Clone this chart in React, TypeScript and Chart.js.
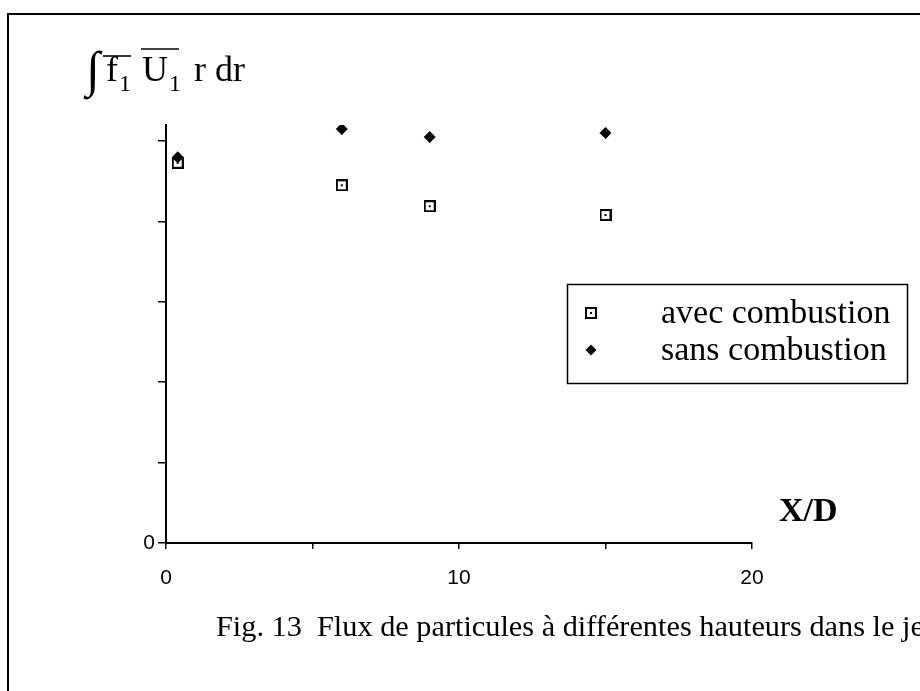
import React, { useEffect, useRef } from "react";
import { Chart, registerables } from "chart.js";

Chart.register(...registerables);

// ---- data ----
const xPositions = [0.4, 6, 9, 15];
const avecCombustion = [4.73, 4.45, 4.19, 4.08];
const sansCombustion = [4.8, 5.15, 5.05, 5.1];
const xTickLabels = ["0", "10", "20"];
const yTickLabels = ["0"];
const seriesNames = ["avec combustion", "sans combustion"];
const xAxisTitle = "X/D";
const caption = "Fig. 13  Flux de particules à différentes hauteurs dans le jet";

const SERIF = '"Liberation Serif", "Times New Roman", serif';
const SANS = '"Liberation Sans Narrow", "Liberation Sans", Arial, sans-serif';

function makeSquareMarker(): HTMLCanvasElement {
  const c = document.createElement("canvas");
  c.width = 12;
  c.height = 12;
  const g = c.getContext("2d")!;
  g.fillStyle = "#fff";
  g.fillRect(0, 0, 12, 12);
  g.fillStyle = "#000";
  g.fillRect(0, 0, 12, 2);
  g.fillRect(0, 10, 12, 2);
  g.fillRect(0, 0, 2, 12);
  g.fillRect(10, 0, 2, 12);
  g.fillRect(5, 5, 2, 2);
  return c;
}

function drawDiamond(ctx: CanvasRenderingContext2D, x: number, y: number, r: number) {
  ctx.beginPath();
  ctx.moveTo(x, y - r);
  ctx.lineTo(x + r, y);
  ctx.lineTo(x, y + r);
  ctx.lineTo(x - r, y);
  ctx.closePath();
  ctx.fillStyle = "#000";
  ctx.fill();
}

export default function App() {
  const ref = useRef<HTMLCanvasElement | null>(null);

  useEffect(() => {
    const canvas = ref.current;
    if (!canvas) return;
    const square = makeSquareMarker();

    const decor = {
      id: "decor",
      beforeDraw(chart: any) {
        const ctx = chart.ctx as CanvasRenderingContext2D;
        ctx.save();
        ctx.fillStyle = "#fff";
        ctx.fillRect(0, 0, chart.width, chart.height);
        // page frame
        ctx.strokeStyle = "#000";
        ctx.lineWidth = 2;
        ctx.beginPath();
        ctx.moveTo(8, 691);
        ctx.lineTo(8, 14);
        ctx.lineTo(920, 14);
        ctx.stroke();
        ctx.restore();
      },
      afterDraw(chart: any) {
        const ctx = chart.ctx as CanvasRenderingContext2D;
        ctx.save();
        ctx.fillStyle = "#000";
        ctx.strokeStyle = "#000";
        ctx.textBaseline = "alphabetic";
        ctx.textAlign = "left";

        // y-axis label: ∫ f1 U1 r dr
        ctx.font = `50px ${SERIF}`;
        ctx.fillText("∫", 86, 86);
        let x = 106;
        ctx.font = `36px ${SERIF}`;
        ctx.fillText("f", x, 81);
        const fw = ctx.measureText("f").width;
        ctx.lineWidth = 1.6;
        ctx.beginPath();
        ctx.moveTo(x - 3, 56);
        ctx.lineTo(x + fw + 13, 56);
        ctx.stroke();
        x += fw + 1;
        ctx.font = `24px ${SERIF}`;
        ctx.fillText("1", x, 91);
        x += ctx.measureText("1").width + 11;
        ctx.font = `36px ${SERIF}`;
        ctx.fillText("U", x, 81);
        const uw = ctx.measureText("U").width;
        ctx.beginPath();
        ctx.moveTo(x - 1, 49);
        ctx.lineTo(x + uw + 11, 49);
        ctx.stroke();
        x += uw + 1;
        ctx.font = `24px ${SERIF}`;
        ctx.fillText("1", x, 91);
        x += ctx.measureText("1").width + 13;
        ctx.font = `36px ${SERIF}`;
        ctx.fillText("r dr", x, 81);

        // x-axis title
        ctx.font = `bold 34px ${SERIF}`;
        ctx.fillText(xAxisTitle, 779, 521);

        // legend box
        ctx.lineWidth = 1.5;
        ctx.strokeRect(567.5, 284.5, 340, 99);
        ctx.drawImage(square, 591 - 6, 313 - 6);
        drawDiamond(ctx, 591, 350, 5.5);
        ctx.font = `34px ${SERIF}`;
        ctx.fillText(seriesNames[0], 661, 323);
        ctx.fillText(seriesNames[1], 661, 360);

        // caption
        ctx.font = `30.3px ${SERIF}`;
        ctx.fillText(caption, 216, 636);
        ctx.restore();
      },
    };

    const chart = new Chart(canvas, {
      type: "scatter",
      data: {
        datasets: [
          {
            label: seriesNames[0],
            data: xPositions.map((x, i) => ({ x, y: avecCombustion[i] })),
            pointStyle: square as any,
            pointRadius: 6,
            order: 2,
          },
          {
            label: seriesNames[1],
            data: xPositions.map((x, i) => ({ x, y: sansCombustion[i] })),
            pointStyle: "rectRot",
            pointRadius: 6,
            backgroundColor: "#000",
            borderColor: "#000",
            borderWidth: 0,
            order: 1,
          },
        ],
      },
      options: {
        animation: false,
        responsive: false,
        events: [],
        layout: { padding: { left: 0, right: 168, top: 125, bottom: 0 } },
        plugins: {
          legend: { display: false },
          tooltip: { enabled: false },
          title: { display: false },
        },
        scales: {
          x: {
            type: "linear",
            min: 0,
            max: 20,
            afterFit: (s: any) => {
              s.height = 148;
            },
            border: { display: true, color: "#000", width: 2 },
            grid: {
              drawOnChartArea: false,
              drawTicks: true,
              tickLength: 6,
              color: "#000",
              lineWidth: 1.5,
            },
            ticks: {
              stepSize: 5,
              padding: 17,
              color: "#000",
              font: { family: SANS, size: 21 },
              maxRotation: 0,
              callback: (v: any) => {
                const s = String(v);
                return xTickLabels.includes(s) ? s : "";
              },
            },
          },
          y: {
            type: "linear",
            min: 0,
            max: 5.2,
            afterFit: (s: any) => {
              s.width = 166;
            },
            border: { display: true, color: "#000", width: 2 },
            grid: {
              drawOnChartArea: false,
              drawTicks: true,
              tickLength: 8,
              color: "#000",
              lineWidth: 1.5,
            },
            ticks: {
              stepSize: 1,
              includeBounds: false,
              padding: 3,
              color: "#000",
              font: { family: SANS, size: 21 },
              callback: (v: any) => {
                const s = String(v);
                return yTickLabels.includes(s) ? s : "";
              },
            },
          },
        },
      },
      plugins: [decor],
    });

    return () => chart.destroy();
  }, []);

  return (
    <div style={{ position: "fixed", left: 0, top: 0, width: 920, height: 691 }}>
      <canvas ref={ref} width={920} height={691} style={{ display: "block" }} />
    </div>
  );
}
